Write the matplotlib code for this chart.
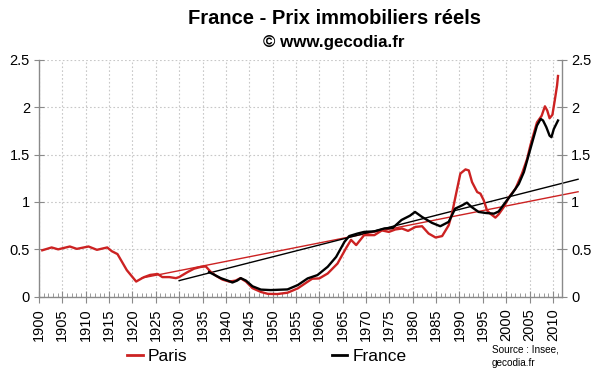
import matplotlib
matplotlib.use('Agg')
import matplotlib.pyplot as plt
from matplotlib.lines import Line2D
from matplotlib.ticker import MultipleLocator

plt.rcParams['font.family'] = ['Liberation Sans', 'DejaVu Sans']

paris_years = [1900.7, 1902.7, 1904.1, 1906.6, 1908.1, 1910.6, 1912.4, 1914.6, 1915.6, 1916.8,
               1918.8, 1920.8, 1922.4, 1923.8, 1925.4, 1926.4, 1927.9, 1929.3, 1930.0, 1931.8,
               1933.2, 1934.6, 1935.7, 1936.8, 1937.9, 1939.3, 1940.7, 1942.1, 1943.1, 1944.3,
               1945.7, 1947.5, 1949.0, 1951.0, 1953.2, 1955.4, 1957.5, 1958.5, 1960.0, 1961.8,
               1963.9, 1965.7, 1966.8, 1967.9, 1969.6, 1971.8, 1973.4, 1974.9, 1976.3, 1977.7,
               1979.0, 1980.6, 1982.0, 1983.4, 1984.9, 1986.3, 1987.7, 1988.4, 1989.3, 1990.2,
               1991.3, 1992.0, 1992.7, 1993.8, 1994.5, 1995.2, 1995.9, 1996.6, 1997.7, 1998.4,
               1999.5, 2000.6, 2002.0, 2003.4, 2004.5, 2005.2, 2005.9, 2006.6, 2007.6, 2008.3,
               2008.8, 2009.3, 2009.9, 2010.4, 2010.9, 2011.1]
paris_vals = [0.49, 0.52, 0.50, 0.53, 0.505, 0.53, 0.495, 0.52, 0.48, 0.45,
              0.28, 0.16, 0.205, 0.23, 0.24, 0.207, 0.207, 0.196, 0.207, 0.26,
              0.296, 0.314, 0.32, 0.26, 0.22, 0.18, 0.16, 0.17, 0.196, 0.16,
              0.09, 0.05, 0.03, 0.028, 0.042, 0.088, 0.158, 0.19, 0.193, 0.245,
              0.35, 0.51, 0.60, 0.545, 0.65, 0.65, 0.70, 0.684, 0.71, 0.72,
              0.695, 0.737, 0.744, 0.667, 0.625, 0.64, 0.754, 0.877, 1.09, 1.30,
              1.344, 1.333, 1.21, 1.105, 1.088, 1.018, 0.912, 0.877, 0.835, 0.87,
              0.947, 1.05, 1.14, 1.30, 1.456, 1.60, 1.72, 1.84, 1.91, 2.01,
              1.965, 1.884, 1.92, 2.07, 2.23, 2.33]

france_years = [1936.4, 1937.5, 1938.9, 1940.4, 1941.4, 1942.4, 1943.2, 1944.3, 1945.7, 1947.5,
                1949.6, 1953.2, 1955.4, 1957.5, 1959.6, 1961.8, 1963.6, 1965.4, 1966.4, 1968.2,
                1969.6, 1971.8, 1973.9, 1975.7, 1977.6, 1979.4, 1980.5, 1982.0, 1984.1, 1985.9,
                1987.7, 1989.1, 1990.6, 1991.6, 1992.6, 1994.1, 1995.6, 1997.4, 1998.4, 1999.9,
                2001.3, 2002.7, 2003.8, 2004.9, 2005.7, 2006.6, 2007.4, 2007.9, 2008.6, 2009.3,
                2009.7, 2010.2, 2011.1]
france_vals = [0.26, 0.232, 0.196, 0.17, 0.15, 0.17, 0.196, 0.17, 0.11, 0.075,
               0.07, 0.077, 0.123, 0.193, 0.228, 0.316, 0.42, 0.58, 0.64, 0.667,
               0.684, 0.69, 0.72, 0.725, 0.81, 0.855, 0.895, 0.842, 0.78, 0.744,
               0.79, 0.93, 0.965, 0.993, 0.947, 0.895, 0.884, 0.877, 0.90, 1.0,
               1.09, 1.19, 1.316, 1.51, 1.65, 1.807, 1.877, 1.86, 1.79, 1.70,
               1.684, 1.77, 1.86]

# long-run trend lines (start / end points)
paris_trend_years = [1922.0, 2015.4]
paris_trend_vals = [0.197, 1.108]
france_trend_years = [1930.0, 2015.4]
france_trend_vals = [0.17, 1.24]

RED = '#cc2222'
GREY = '#8a8a8a'

fig = plt.figure(figsize=(6.0, 3.72), dpi=100)
ax = fig.add_axes([0.065, 0.2024, 0.872, 0.6366])

ax.plot(paris_trend_years, paris_trend_vals, color=RED, lw=1.0, clip_on=False)
ax.plot(france_trend_years, france_trend_vals, color='black', lw=1.0, clip_on=False)
ax.plot(paris_years, paris_vals, color=RED, lw=1.7)
ax.plot(france_years, france_vals, color='black', lw=1.7)

ax.set_xlim(1900, 2012)
ax.set_ylim(0, 2.5)
ax.xaxis.set_minor_locator(MultipleLocator(1))
ax.set_yticks([0, 0.5, 1, 1.5, 2, 2.5], ['0', '0.5', '1', '1.5', '2', '2.5'])
ax.set_xticks(range(1900, 2011, 5), [str(y) for y in range(1900, 2011, 5)], rotation=90)

ax.grid(True, which='major', color='#c8c8c8', lw=0.8, ls=(0, (1.5, 2)))
ax.tick_params(axis='x', which='major', direction='inout', length=9, color=GREY,
               labelsize=10.5, pad=4)
ax.tick_params(axis='x', which='minor', direction='in', length=3, color=GREY)
ax.tick_params(axis='y', direction='inout', length=7, color=GREY, labelsize=10.5,
               right=True, labelright=True, pad=3)

for side in ['left', 'right', 'bottom']:
    ax.spines[side].set_color(GREY)
    ax.spines[side].set_linewidth(1.0)
ax.spines['top'].set_visible(False)

fig.text(0.557, 0.949, 'France - Prix immobiliers réels', ha='center', va='center',
         fontsize=14.5, fontweight='bold')
fig.text(0.557, 0.886, '© www.gecodia.fr', ha='center', va='center',
         fontsize=12.2, fontweight='bold')

handles = [Line2D([], [], color=RED, lw=2), Line2D([], [], color='black', lw=2)]
fig.legend(handles, ['Paris', 'France'], loc='center', bbox_to_anchor=(0.445, 0.041),
           ncol=2, frameon=False, fontsize=12.5, handlelength=0.9, handletextpad=0.3,
           columnspacing=8.3)

fig.text(0.82, 0.042, 'Source : Insee,\ngecodia.fr', ha='left', va='center',
         fontsize=7.2, linespacing=1.5)

fig.savefig('out.png', dpi=100)
